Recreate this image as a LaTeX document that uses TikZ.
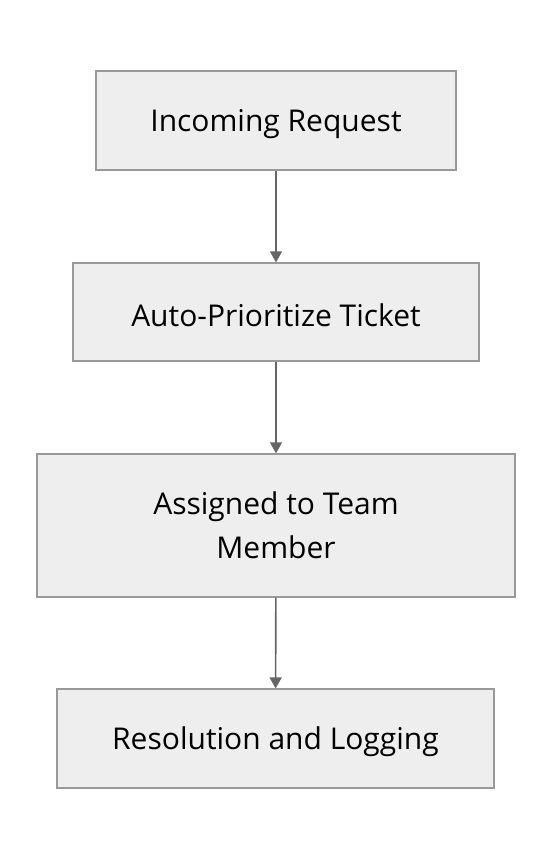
\documentclass[tikz,border=0pt]{standalone}
\usepackage{fontspec}
\setmainfont{Open Sans}
\usetikzlibrary{arrows.meta}
\definecolor{boxfill}{HTML}{EEEEEE}
\definecolor{boxdraw}{HTML}{999999}
\definecolor{arr}{HTML}{666666}
\begin{document}
\begin{tikzpicture}[x=1pt,y=-1pt,
  stepbox/.style={draw=boxdraw,fill=boxfill,line width=1.2pt,inner sep=0pt},
  lbl/.style={align=center,font=\fontsize{30}{44}\selectfont,inner sep=0pt},
  flow/.style={draw=arr,line width=1.6pt,-{Triangle[length=11pt,width=12pt]}}]
\useasboundingbox (0,0) rectangle (552,860);
\node[stepbox,minimum width=360pt,minimum height=99pt] (a) at (276,120.5) {};
\node[stepbox,minimum width=406pt,minimum height=98pt] (b) at (276,312) {};
\node[stepbox,minimum width=478pt,minimum height=143pt] (c) at (276,525.5) {};
\node[stepbox,minimum width=437pt,minimum height=99pt] (d) at (275.5,738.5) {};
\node[lbl] (ta) at ([yshift=-3.5pt]a.center) {Incoming Request};
\node[lbl] (tb) at ([yshift=-3.5pt]b.center) {Auto-Prioritize Ticket};
\node[lbl] (tc) at ([yshift=0pt]c.center) {Assigned to Team\\Member};
\node[lbl] (td) at ([yshift=-3.5pt]d.center) {Resolution and Logging};
\draw[flow] (a) -- (b);
\draw[flow] (b) -- (c);
\draw[flow] (c) -- (d);
\end{tikzpicture}
\end{document}
